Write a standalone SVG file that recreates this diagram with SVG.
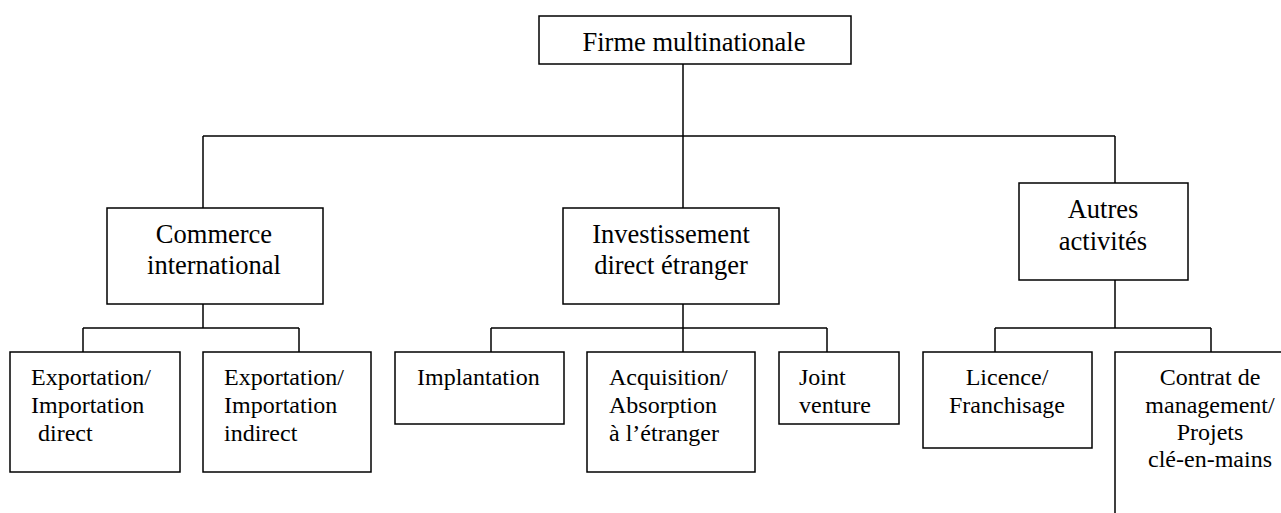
<svg xmlns="http://www.w3.org/2000/svg" width="1281" height="513" viewBox="0 0 1281 513">
<style>
rect{fill:#fff;stroke:#000;stroke-width:1.5}
.c line{stroke:#000;stroke-width:1.5}
text{fill:#000}
.t{font-size:26.5px}
.s{font-size:24px}
.m{text-anchor:middle}
</style>
<rect x="0" y="0" width="1281" height="513" style="stroke:none"/>
<g class="c" id="connectors">
<line x1="683" y1="64" x2="683" y2="208"/>
<line x1="203" y1="136" x2="1115" y2="136"/>
<line x1="203" y1="136" x2="203" y2="208"/>
<line x1="1115" y1="136" x2="1115" y2="183"/>
<line x1="203" y1="304" x2="203" y2="328"/>
<line x1="83" y1="328" x2="299" y2="328"/>
<line x1="83" y1="328" x2="83" y2="352"/>
<line x1="299" y1="328" x2="299" y2="352"/>
<line x1="683" y1="304" x2="683" y2="352"/>
<line x1="491" y1="328" x2="827" y2="328"/>
<line x1="491" y1="328" x2="491" y2="352"/>
<line x1="827" y1="328" x2="827" y2="352"/>
<line x1="1115" y1="280" x2="1115" y2="328"/>
<line x1="995" y1="328" x2="1211" y2="328"/>
<line x1="995" y1="328" x2="995" y2="352"/>
<line x1="1211" y1="328" x2="1211" y2="352"/>
</g>
<g font-family="'Liberation Serif', Tinos, 'DejaVu Serif', serif">
<g id="firme">
<rect x="539" y="16" width="312" height="48"/>
<text class="t m" x="694" y="51">Firme multinationale</text>
</g>
<g id="commerce">
<rect x="107" y="208" width="216" height="96"/>
<text class="t m" x="214" y="243">Commerce</text>
<text class="t m" x="214" y="274">international</text>
</g>
<g id="ide">
<rect x="563" y="208" width="216" height="96"/>
<text class="t m" x="671" y="243">Investissement</text>
<text class="t m" x="671" y="274">direct étranger</text>
</g>
<g id="autres">
<rect x="1019" y="183" width="169" height="97"/>
<text class="t m" x="1103" y="218">Autres</text>
<text class="t m" x="1103" y="250">activités</text>
</g>
<g id="export-direct">
<rect x="10" y="352" width="170" height="120"/>
<text class="s" x="31" y="385">Exportation/</text>
<text class="s" x="31" y="413">Importation</text>
<text class="s" x="38" y="441">direct</text>
</g>
<g id="export-indirect">
<rect x="203" y="352" width="168" height="120"/>
<text class="s" x="224" y="385">Exportation/</text>
<text class="s" x="224" y="413">Importation</text>
<text class="s" x="224" y="441">indirect</text>
</g>
<g id="implantation">
<rect x="395" y="352" width="169" height="72"/>
<text class="s" x="417" y="385">Implantation</text>
</g>
<g id="acquisition">
<rect x="587" y="352" width="168" height="120"/>
<text class="s" x="609" y="385">Acquisition/</text>
<text class="s" x="609" y="413">Absorption</text>
<text class="s" x="609" y="441">à l’étranger</text>
</g>
<g id="joint">
<rect x="779" y="352" width="120" height="72"/>
<text class="s" x="799" y="385">Joint</text>
<text class="s" x="799" y="413">venture</text>
</g>
<g id="licence">
<rect x="923" y="352" width="169" height="96"/>
<text class="s m" x="1007" y="385">Licence/</text>
<text class="s m" x="1007" y="413">Franchisage</text>
</g>
<g id="contrat">
<rect x="1115" y="352" width="192" height="200"/>
<text class="s m" x="1210" y="385">Contrat de</text>
<text class="s m" x="1210" y="412.5">management/</text>
<text class="s m" x="1210" y="440">Projets</text>
<text class="s m" x="1210" y="467">clé-en-mains</text>
</g>
</g>
</svg>
